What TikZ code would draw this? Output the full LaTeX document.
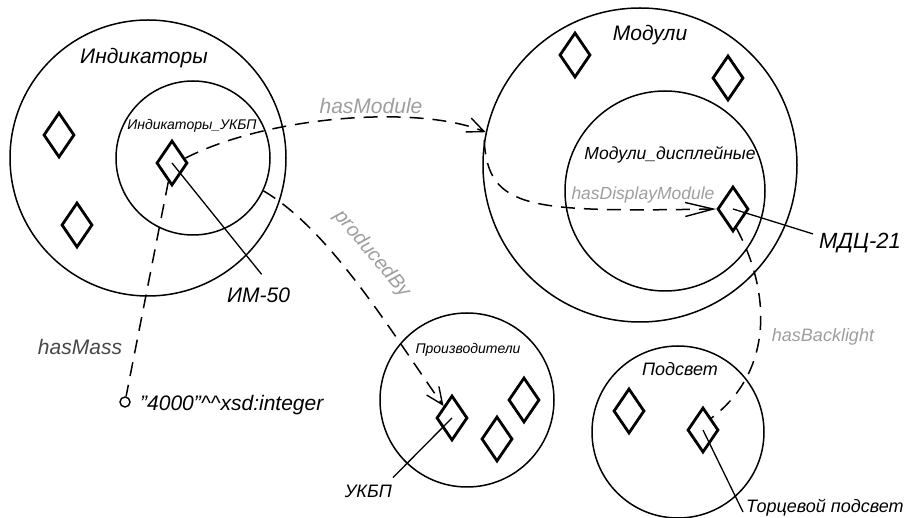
\documentclass[tikz,border=0pt]{standalone}
\usepackage{fontspec}
\setmainfont{Liberation Sans}
\usetikzlibrary{shapes.geometric,arrows.meta}
\definecolor{proplight}{gray}{0.62}
\definecolor{propdark}{gray}{0.28}

\begin{document}
\begin{tikzpicture}[x=1pt,y=-1pt,
    set/.style={draw,circle,line width=1.5pt,inner sep=0pt},
    indiv/.style={draw,diamond,line width=2.8pt,inner sep=0pt,minimum width=31pt,minimum height=45pt},
    rel/.style={line width=1.5pt,dash pattern=on 14pt off 9pt},
    tip/.style={-{Straight Barb[length=17pt,width=15pt,line width=1.4pt]}},
    lead/.style={line width=1.3pt},
    lbl/.style={inner sep=0pt,font=\itshape\fontsize{#1}{#1}\selectfont},
    prop/.style={lbl=#1,text=proplight}]
    \useasboundingbox (0,0) rectangle (906,518);

    % classes
    \node[set,minimum size=276pt] (ind) at (148,158) {};
    \node[set,minimum size=154pt] (indukbp) at (193,158) {};
    \node[set,minimum size=314pt] (modules) at (640,165) {};
    \node[set,minimum size=200pt] (moddisp) at (665,191) {};
    \node[set,minimum size=174pt] (prod) at (467,400) {};
    \node[set,minimum size=172pt] (light) at (678,432) {};

    \node[lbl=21] at (144,58) {Индикаторы};
    \node[lbl=14] at (192,126) {Индикаторы\_УКБП};
    \node[lbl=21] at (650,35) {Модули};
    \node[lbl=17.5] at (670,155) {Модули\_дисплейные};
    \node[lbl=14] at (468,350) {Производители};
    \node[lbl=18] at (680,369) {Подсвет};

    % individuals
    \node[indiv] (ind1) at (59,135) {};
    \node[indiv] (ind2) at (77,225) {};
    \node[indiv] (im50) at (172,163) {};
    \node[indiv] (mod1) at (575,55) {};
    \node[indiv] (mod2) at (728,78) {};
    \node[indiv] (mdc) at (733,209) {};
    \node[indiv] (ukbp) at (452,418) {};
    \node[indiv] (prod2) at (524,400) {};
    \node[indiv] (prod3) at (497,439) {};
    \node[indiv] (light1) at (629,411) {};
    \node[indiv] (torc) at (703,430) {};

    \node[lbl=21,anchor=west] (im50lbl) at (227,295) {ИМ-50};
    \node[lbl=22,anchor=west] (mdclbl) at (819,243) {МДЦ-21};
    \node[lbl=18,anchor=east] (ukbplbl) at (392,491) {УКБП};
    \node[lbl=18,anchor=west] (torclbl) at (746,508) {Торцевой подсвет};

    \draw[lead] (im50.center) -- ([shift={(3,-13)}]im50lbl.north);
    \draw[lead] (mdc.center) -- ([shift={(-6,1)}]mdclbl.north west);
    \draw[lead] (ukbp.center) -- ([shift={(1,-7)}]ukbplbl.north east);
    \draw[lead] (torc.center) -- ([shift={(-3,4)}]torclbl.west);

    % literal
    \node[draw,circle,line width=1.4pt,inner sep=0pt,minimum size=10pt] (lit) at (125,402) {};
    \node[lbl=21,anchor=west] (litlbl) at (140,405) {"4000"\textasciicircum\textasciicircum xsd:integer};

    % properties
    \draw[rel,tip] (im50.20) .. controls (270,115) and (420,105) .. (modules.168);
    \node[prop=21] at (371,106) {hasModule};

    \draw[rel,-{Straight Barb[length=28pt,width=14pt,line width=1.4pt]}]
        (modules.171) .. controls (488,210) and (530,212) .. (mdc.west);
    \node[prop=17.5] at (643,195) {hasDisplayModule};

    \draw[rel,tip] (indukbp.-25) .. controls (330,230) and (390,330) .. (ukbp.north west);
    \node[prop=20,rotate=-50] at (372,254) {producedBy};

    \draw[rel] (mdc.-80) .. controls (770,290) and (775,370) .. (torc.north east);
    \node[prop=18] at (823,337) {hasBacklight};

    \draw[rel] (im50) -- (lit);
    \node[lbl=21,text=propdark] at (80,347) {hasMass};
\end{tikzpicture}
\end{document}
